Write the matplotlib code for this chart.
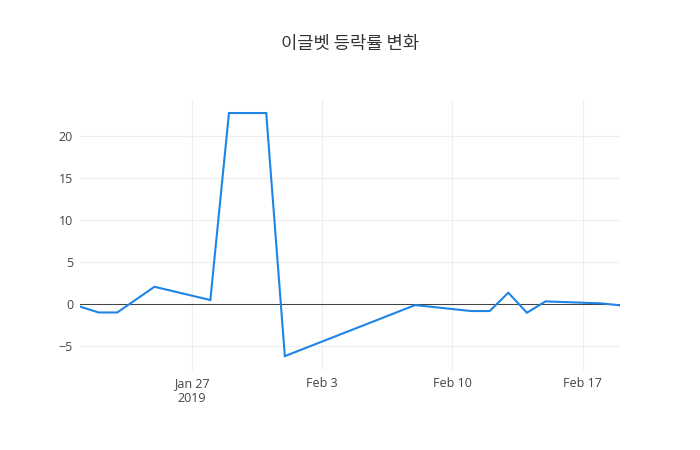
import matplotlib
matplotlib.use("Agg")
import matplotlib.pyplot as plt
import numpy as np
import pandas as pd

title = "이글벳 등락률 변화"
dates = ["2019-01-21", "2019-01-22", "2019-01-23", "2019-01-25", "2019-01-28",
         "2019-01-29", "2019-01-31", "2019-02-01", "2019-02-08", "2019-02-11",
         "2019-02-12", "2019-02-13", "2019-02-14", "2019-02-15", "2019-02-18",
         "2019-02-19"]
values = [-0.3, -1.0, -1.0, 2.06, 0.48,
          22.75, 22.75, -6.2, -0.12, -0.83,
          -0.83, 1.35, -1.03, 0.32, 0.08,
          -0.15]
xtick_dates = ["2019-01-27", "2019-02-03", "2019-02-10", "2019-02-17"]
xtick_labels = ["Jan 27\n2019", "Feb 3", "Feb 10", "Feb 17"]
yticks = [-5, 0, 5, 10, 15, 20]
ytick_labels = ["\u22125", "0", "5", "10", "15", "20"]
y_range = (-7.85, 24.3)

x = pd.to_datetime(dates)
W, H = 700, 450
fig = plt.figure(figsize=(W / 100, H / 100), dpi=100)
ax = fig.add_axes([80 / W, 80 / H, 540 / W, 270 / H])

ax.plot(x, values, color="#1e84e6", linewidth=1.5, zorder=3, solid_joinstyle="miter")
ax.axhline(0, color="#444444", linewidth=0.75, zorder=2)

ax.set_xlim(x[0], x[-1])
ax.set_ylim(*y_range)

ax.set_xticks(pd.to_datetime(xtick_dates))
ax.set_xticklabels(xtick_labels)
ax.set_yticks(yticks)
ax.set_yticklabels(ytick_labels)

tick_font = ["Open Sans", "DejaVu Sans"]
for lab in ax.get_xticklabels() + ax.get_yticklabels():
    lab.set_family(tick_font)
    lab.set_fontsize(9)
    lab.set_color("#444444")

ax.tick_params(axis="both", length=0)
ax.tick_params(axis="x", pad=5)
ax.tick_params(axis="y", pad=5)
ax.grid(True, color="#eeeeee", linewidth=0.75)
ax.set_axisbelow(True)
for s in ax.spines.values():
    s.set_visible(False)

fig.text(350 / W, 1 - 44 / H, title, ha="center", va="center",
         fontsize=12.75, color="#333333", family=["Noto Sans CJK KR", "DejaVu Sans"])

fig.savefig("out.png", dpi=100)
